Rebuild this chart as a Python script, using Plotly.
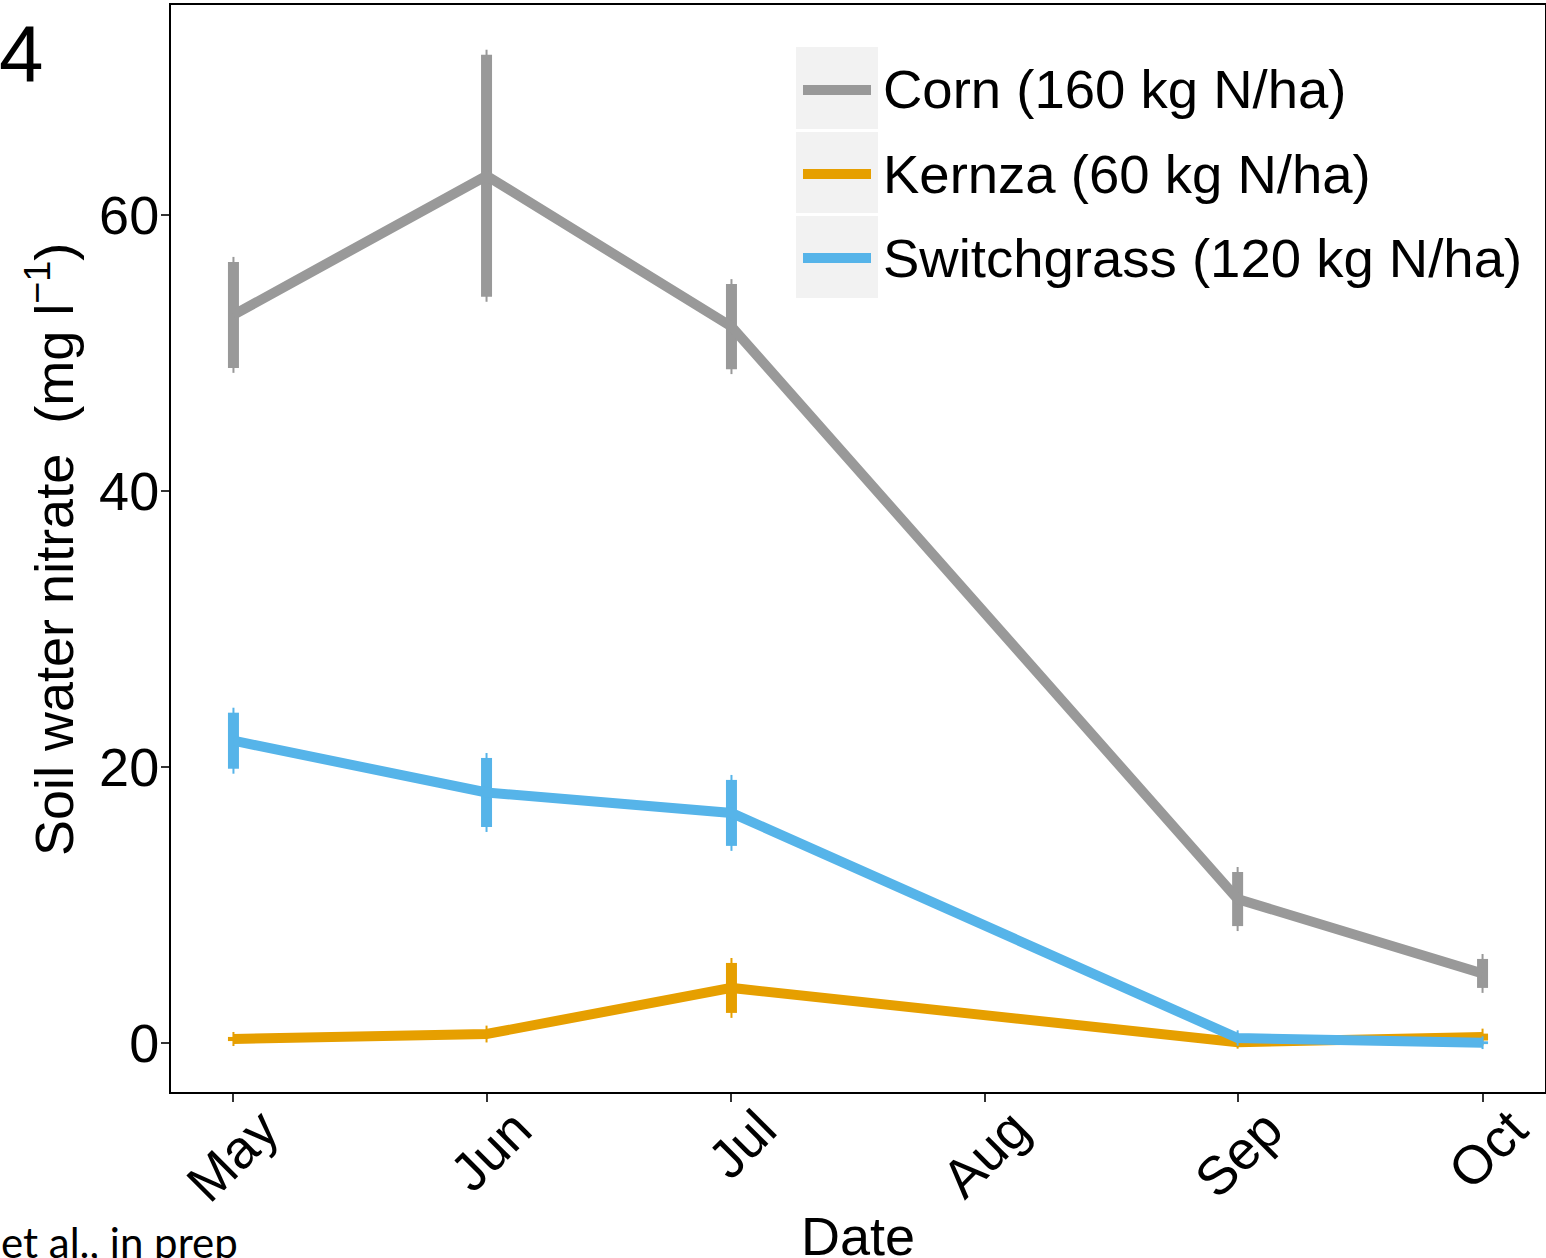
import plotly.graph_objects as go
from datetime import datetime, timedelta

# ---- data ----
dates = ["2016-05-01", "2016-06-01", "2016-07-01", "2016-09-01", "2016-10-01"]
series_names = ["Corn (160 kg N/ha)", "Kernza (60 kg N/ha)", "Switchgrass (120 kg N/ha)"]
corn_mean = [52.75, 62.83, 51.9, 10.43, 5.04]
corn_se = [3.84, 8.77, 3.08, 1.96, 1.05]
kernza_mean = [0.29, 0.65, 3.99, 0.05, 0.43]
kernza_se = [0.15, 0.25, 1.81, 0.1, 0.25]
switch_mean = [21.9, 18.15, 16.67, 0.36, 0.02]
switch_se = [2.03, 2.5, 2.39, 0.2, 0.1]
colors = ["#999999", "#E69F00", "#56B4E9"]
y_ticks = [0, 20, 40, 60]

# ---- geometry (pixels) ----
W, H = 1546, 1258
ML, MR, MT, MB = 171, 1, 5, 166
PW, PH = W - ML - MR, H - MT - MB


def px(x):
    return (x - ML) / PW


def py(y):
    return 1 - (y - MT) / PH


TIP = 0.36  # thin tip extension beyond thick error bar (data units)

fig = go.Figure()
means = [corn_mean, kernza_mean, switch_mean]
ses = [corn_se, kernza_se, switch_se]
for name, m, s, c in zip(series_names, means, ses, colors):
    # thin tips
    fig.add_trace(go.Scatter(
        x=dates, y=m, mode="markers", marker=dict(size=1, opacity=0),
        error_y=dict(type="data", array=[v + TIP for v in s], color=c, thickness=2, width=0),
        showlegend=False, hoverinfo="skip"))
    # main line + thick error bars
    fig.add_trace(go.Scatter(
        x=dates, y=m, mode="lines", name=name,
        line=dict(color=c, width=10),
        error_y=dict(type="data", array=s, color=c, thickness=11, width=0),
        showlegend=False))

d0 = datetime(2016, 5, 1)
d1 = datetime(2016, 10, 1)
span = (d1 - d0).days
pad = timedelta(days=span * 0.05)

font_main = "Liberation Sans, Arial, sans-serif"

fig.update_layout(
    width=W, height=H,
    margin=dict(l=ML, r=MR, t=MT, b=MB, autoexpand=False),
    paper_bgcolor="white", plot_bgcolor="white",
    font=dict(family=font_main, size=54, color="black"),
    showlegend=False,
)
fig.update_xaxes(
    type="date", range=[d0 - pad, d1 + pad], automargin=False,
    tickformat="%b", dtick="M1", tick0="2016-05-01",
    tickangle=-45, ticks="outside", ticklen=8, tickwidth=2, tickcolor="#333333",
    showgrid=False, zeroline=False,
    showline=True, linecolor="black", linewidth=2, mirror=True,
    tickfont=dict(size=54, color="black"),
    ticklabelshift=29, ticklabelstandoff=-26,
)
fig.update_yaxes(
    range=[-3.55, 75.2], tickvals=y_ticks, ticktext=[str(v) for v in y_ticks],
    automargin=False,
    ticks="outside", ticklen=8, tickwidth=2, tickcolor="#333333",
    showgrid=False, zeroline=False,
    showline=True, linecolor="black", linewidth=2, mirror=True,
    tickfont=dict(size=54, color="black"),
    ticklabelstandoff=-9,
)

shapes = []
annotations = []
# legend (manual, ggplot-like keys)
key_rows = [(47, 129, 90), (132, 213, 174), (216, 298, 258)]
for (yt, yb, yc), name, c in zip(key_rows, series_names, colors):
    shapes.append(dict(type="rect", xref="paper", yref="paper",
                       x0=px(796), x1=px(878), y0=py(yb), y1=py(yt),
                       fillcolor="#F2F2F2", line=dict(width=0), layer="above"))
    shapes.append(dict(type="line", xref="paper", yref="paper",
                       x0=px(803), x1=px(871), y0=py(yc), y1=py(yc),
                       line=dict(color=c, width=10), layer="above"))
    annotations.append(dict(text=name, xref="paper", yref="paper",
                            x=px(881), y=py(yc), xanchor="left", yanchor="middle",
                            showarrow=False, font=dict(size=54.5, color="black", family=font_main)))

# axis titles
annotations.append(dict(text="Soil water nitrate  (mg l<sup>\u22121</sup>)", textangle=-90,
                        xref="paper", yref="paper", x=px(50), y=py(550),
                        xanchor="center", yanchor="middle", showarrow=False,
                        font=dict(size=54, color="black", family=font_main)))
annotations.append(dict(text="Date", xref="paper", yref="paper", x=px(858), y=py(1236),
                        xanchor="center", yanchor="middle", showarrow=False,
                        font=dict(size=54, color="black", family=font_main)))
# panel label and citation
annotations.append(dict(text="4", xref="paper", yref="paper", x=px(-3), y=py(54),
                        xanchor="left", yanchor="middle", showarrow=False,
                        font=dict(size=80, color="black", family=font_main)))
annotations.append(dict(text="et al., in prep", xref="paper", yref="paper", x=px(240), y=py(1242),
                        xanchor="right", yanchor="middle", showarrow=False,
                        font=dict(size=42, color="black", family="Lato, Open Sans, sans-serif")))

fig.update_layout(shapes=shapes, annotations=annotations)
fig.write_html("out.html", config={"displayModeBar": False},
               post_script="document.body.style.margin='0';document.body.style.overflow='hidden';")
